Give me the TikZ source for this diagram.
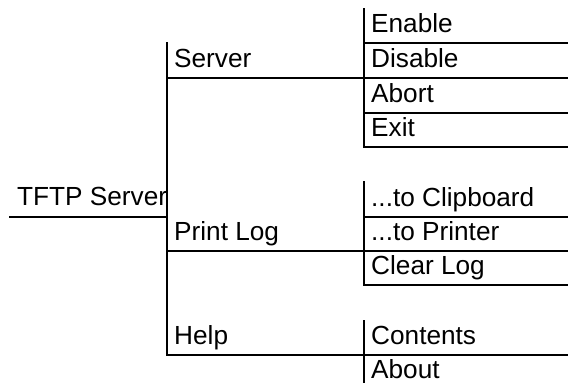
\documentclass[tikz,border=0pt]{standalone}
\usepackage{fontspec}
\setmainfont{Liberation Sans}
\begin{document}
\begin{tikzpicture}[x=1pt,y=-1pt,
  lbl/.style={anchor=base west,inner sep=0pt,font=\fontsize{26.2}{30}\selectfont},
  rule/.style={line width=1.6pt,line cap=rect}]
\useasboundingbox (0,0) rectangle (568,383);
% texts
\node[lbl] (root) at (17,205) {TFTP Server};
\node[lbl] (srv) at (174,67) {Server};
\node[lbl] (plog) at (174,240) {Print Log};
\node[lbl] (help) at (174,344) {Help};
\node[lbl] (en) at (371,32) {Enable};
\node[lbl] (dis) at (371,67) {Disable};
\node[lbl] (ab) at (371,102) {Abort};
\node[lbl] (ex) at (371,136) {Exit};
\node[lbl] (clip) at (371,206) {...to Clipboard};
\node[lbl] (prn) at (371,240) {...to Printer};
\node[lbl] (clr) at (371,274) {Clear Log};
\node[lbl] (cont) at (371,344) {Contents};
\node[lbl] (about) at (371,378) {About};
% level 0 and 1
\draw[rule] (10,217) -- (167,217);
\draw[rule] (167,43) -- (167,355);
\draw[rule] (167,78) -- (364,78);
\draw[rule] (167,251) -- (364,251);
\draw[rule] (167,355) -- (364,355);
% level 2 verticals
\draw[rule] (364,9) -- (364,147);
\draw[rule] (364,182) -- (364,285);
\draw[rule] (364,321) -- (364,383);
% level 2 underlines
\foreach \yy in {43,78,113,147,217,251,285,355}
  \draw[rule] (364,\yy) -- (568,\yy);
\end{tikzpicture}
\end{document}
